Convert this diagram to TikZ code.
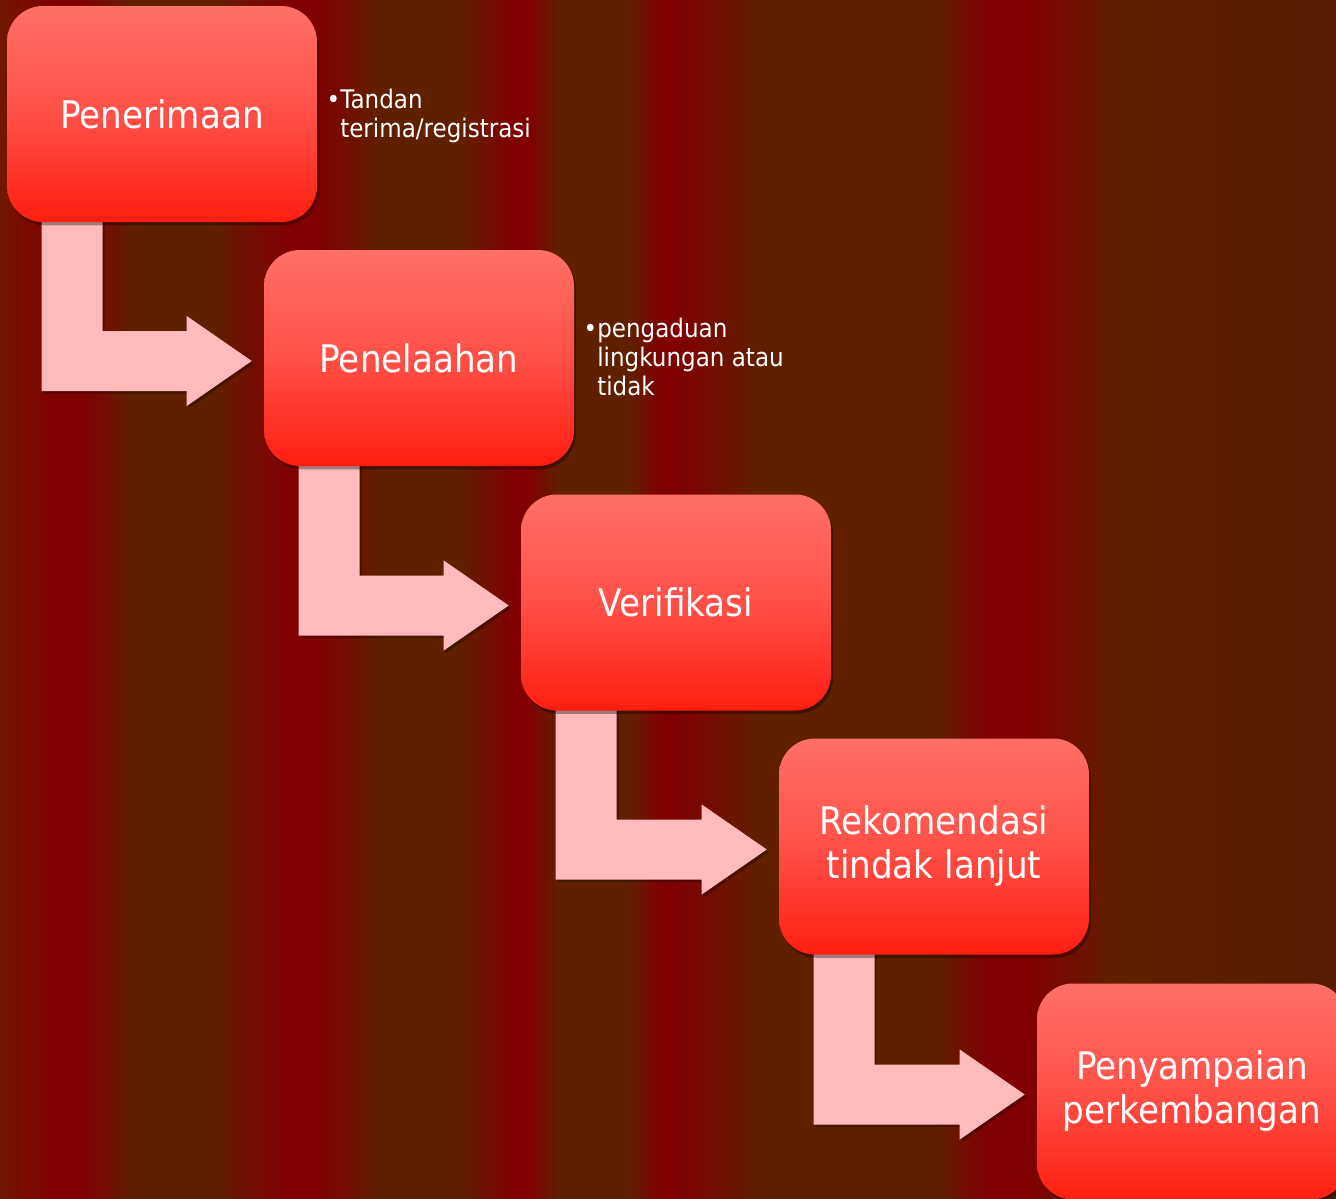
\documentclass[tikz,border=0pt]{standalone}
\usepackage{fontspec}
\setmainfont{DejaVu Sans}[FakeStretch=0.9]
\usetikzlibrary{calc,shadows}
\definecolor{maro}{HTML}{800000}
\definecolor{brwn}{HTML}{602000}
\definecolor{brwnd}{HTML}{561D00}
\definecolor{edgec}{HTML}{721800}
\definecolor{boxtop}{HTML}{FF7066}
\definecolor{boxmid}{HTML}{FF5048}
\definecolor{boxbot}{HTML}{FF1E10}
\definecolor{arrowpink}{HTML}{FFBBBB}
\pgfdeclarelayer{bg}
\pgfdeclarelayer{mid}
\pgfsetlayers{bg,mid,main}
\begin{document}
\begin{tikzpicture}[x=0.75pt,y=-0.75pt,
  stage/.style={rounded corners=27pt, minimum width=232.5pt, minimum height=162pt,
    top color=boxtop, bottom color=boxbot, middle color=boxmid, text=white,
    font=\fontsize{28.5}{33}\selectfont, align=center, inner sep=0pt,
    drop shadow={shadow xshift=1.5pt,shadow yshift=-2.5pt,opacity=0.35,fill=black}},
  note/.style={text=white, font=\fontsize{19.2}{21.75}\selectfont, align=left,
    anchor=north west, inner sep=0pt},
  bentarrow/.style={fill=arrowpink,
    drop shadow={shadow xshift=1.5pt,shadow yshift=-2pt,opacity=0.3,fill=black}}]
\useasboundingbox (0,0) rectangle (1336,1199);
% stages
\node[stage] (b1) at (162,114) {Penerimaan};
\node[stage] (b2) at (419,358) {Penelaahan};
\node[stage] (b3) at (676,602.5) {Verifikasi};
\node[stage] (b4) at (934,846.5) {Rekomendasi\\tindak lanjut};
\node[stage] (b5) at (1192,1091.5) {Penyampaian\\perkembangan};
% notes
\node[note] (n1) at (340,89) {\llap{•}Tandan\\terima/registrasi};
\node[note] (n2) at (597,318) {\llap{•}pengaduan\\lingkungan atau\\tidak};
% background stripes
\begin{pgfonlayer}{bg}
\foreach \xa/\xb/\ca/\cb in {0/53/edgec/maro, 53/85/maro/maro, 85/130/maro/brwn,
  130/213/brwn/brwn, 213/285/brwn/maro, 285/320/maro/maro, 320/378/maro/brwn,
  378/460/brwn/brwn, 460/512/brwn/maro, 512/528/maro/maro, 528/560/maro/brwn,
  560/630/brwn/brwn, 630/660/brwn/maro, 660/677/maro/maro, 677/760/maro/brwn,
  760/940/brwn/brwn, 940/985/brwn/maro, 985/1029/maro/maro, 1029/1115/maro/brwn,
  1115/1336/brwn/brwnd}
  \shade[left color=\ca, right color=\cb] (\xa-0.4,0) rectangle (\xb+0.4,1199);
\end{pgfonlayer}
% bent arrows
\begin{pgfonlayer}{mid}
\foreach \a/\b in {1/2,2/3,3/4,4/5}{
  \coordinate (t\a) at ($(b\b.west)+(-12,3)$);
  \coordinate (s\a) at ($(b\a.south west)+(35,-2)$);
  \coordinate (r\a) at ($(b\a.south west)+(96,-2)$);
  \coordinate (lo\a) at ($(t\a)+(0,30)$);
  \coordinate (hi\a) at ($(t\a)+(0,-30)$);
  \path[bentarrow] (s\a) -- (s\a |- lo\a) -- ($(t\a)+(-65,30)$) -- ($(t\a)+(-65,45)$)
    -- (t\a) -- ($(t\a)+(-65,-45)$) -- ($(t\a)+(-65,-30)$) -- (r\a |- hi\a)
    -- (r\a) -- cycle;
}
\end{pgfonlayer}
\end{tikzpicture}
\end{document}
